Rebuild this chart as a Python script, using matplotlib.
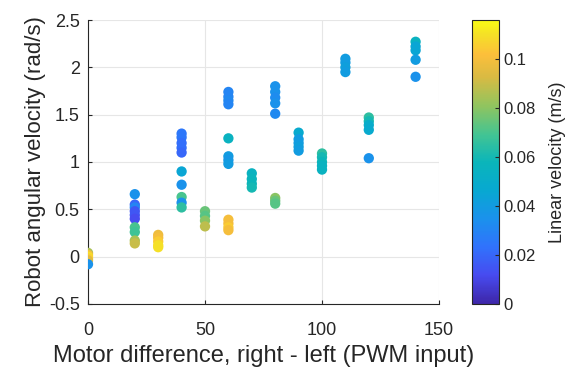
import matplotlib.pyplot as plt
from matplotlib.colors import LinearSegmentedColormap

plt.rcParams['font.family'] = ['Liberation Sans', 'DejaVu Sans']

# motor difference groups and the measured angular / linear velocities
motor_diff = [0, 20, 30, 40, 50, 60, 70, 80, 90, 100, 110, 120, 140]
ang_vel = [
    [0.04, 0.02, 0.0, -0.02, -0.04, -0.08],
    [0.66, 0.55, 0.52, 0.48, 0.44, 0.40, 0.31, 0.26, 0.17, 0.14],
    [0.23, 0.20, 0.16, 0.12, 0.10],
    [1.30, 1.26, 1.20, 1.15, 1.10, 0.90, 0.76, 0.63, 0.57, 0.52],
    [0.48, 0.43, 0.38, 0.32],
    [1.74, 1.69, 1.65, 1.61, 1.25, 1.06, 1.02, 0.98, 0.39, 0.35, 0.31, 0.28],
    [0.88, 0.82, 0.77, 0.73],
    [1.80, 1.74, 1.68, 1.62, 1.51, 0.62, 0.59, 0.56],
    [1.31, 1.24, 1.20, 1.16, 1.12],
    [1.09, 1.05, 1.00, 0.96, 0.92],
    [2.09, 2.05, 2.00, 1.95],
    [1.47, 1.43, 1.39, 1.34, 1.04],
    [2.27, 2.22, 2.18, 2.08, 1.90],
]
lin_vel = [
    [0.085, 0.100, 0.110, 0.105, 0.095, 0.035],
    [0.035, 0.020, 0.030, 0.015, 0.015, 0.012, 0.070, 0.068, 0.085, 0.090],
    [0.098, 0.100, 0.105, 0.110, 0.110],
    [0.025, 0.025, 0.022, 0.022, 0.020, 0.045, 0.035, 0.070, 0.035, 0.065],
    [0.075, 0.072, 0.080, 0.088],
    [0.030, 0.030, 0.032, 0.030, 0.055, 0.040, 0.038, 0.040, 0.100, 0.100, 0.105, 0.100],
    [0.055, 0.057, 0.058, 0.060],
    [0.035, 0.035, 0.033, 0.035, 0.032, 0.080, 0.075, 0.072],
    [0.048, 0.040, 0.040, 0.042, 0.040],
    [0.065, 0.060, 0.058, 0.055, 0.055],
    [0.040, 0.040, 0.042, 0.040],
    [0.065, 0.060, 0.050, 0.048, 0.035],
    [0.055, 0.045, 0.045, 0.040, 0.035],
]
cbar_ticks = [0, 0.02, 0.04, 0.06, 0.08, 0.1]

# parula-like colormap
parula = LinearSegmentedColormap.from_list('parula', [
    (0.00, (0.2422, 0.1504, 0.6603)),
    (0.10, (0.2783, 0.2931, 0.9403)),
    (0.20, (0.1900, 0.4480, 0.9900)),
    (0.30, (0.1040, 0.5700, 0.9250)),
    (0.40, (0.0300, 0.6600, 0.8200)),
    (0.50, (0.0400, 0.7100, 0.7300)),
    (0.60, (0.2700, 0.7700, 0.5700)),
    (0.70, (0.5700, 0.7700, 0.3700)),
    (0.80, (0.8500, 0.7300, 0.2600)),
    (0.88, (0.9900, 0.7500, 0.2300)),
    (0.95, (0.9600, 0.8800, 0.1500)),
    (1.00, (0.9769, 0.9839, 0.0805)),
])

xs, ys, cs = [], [], []
for m, a, c in zip(motor_diff, ang_vel, lin_vel):
    xs += [m] * len(a)
    ys += a
    cs += c

fig = plt.figure(figsize=(5.73, 3.77), dpi=100)
ax = fig.add_axes([88 / 573, 73 / 377, 351 / 573, 284 / 377])
cax = fig.add_axes([472 / 573, 73 / 377, 27 / 573, 284 / 377])

dark = (0.15, 0.15, 0.15)
sc = ax.scatter(xs, ys, c=cs, cmap=parula, vmin=0, vmax=0.1159,
                s=55, edgecolors='none', zorder=3)
ax.set_xlim(0, 150)
ax.set_ylim(-0.5, 2.5)
ax.set_xticks([0, 50, 100, 150])
ax.set_yticks([-0.5, 0, 0.5, 1, 1.5, 2, 2.5])
ax.set_yticklabels(['-0.5', '0', '0.5', '1', '1.5', '2', '2.5'])
ax.grid(True, color=(0.9, 0.9, 0.9), linewidth=0.8, zorder=0)
ax.set_axisbelow(True)
for side in ['top', 'right']:
    ax.spines[side].set_visible(False)
for side in ['left', 'bottom']:
    ax.spines[side].set_color(dark)
ax.tick_params(direction='in', length=3, color=dark, labelcolor=dark,
               labelsize=13)
ax.tick_params(axis='x', pad=13)
ax.tick_params(axis='y', pad=6)
ax.set_xlabel('Motor difference, right - left (PWM input)', fontsize=17,
              color=dark, labelpad=4)
ax.set_ylabel('Robot angular velocity (rad/s)', fontsize=16,
              color=dark, labelpad=2)

cb = fig.colorbar(sc, cax=cax, ticks=cbar_ticks)
cb.ax.set_yticklabels(['0', '0.02', '0.04', '0.06', '0.08', '0.1'])
cb.outline.set_edgecolor(dark)
cb.outline.set_linewidth(0.8)
cb.ax.tick_params(direction='in', length=3, color=dark, labelcolor=dark,
                  labelsize=12)
cb.set_label('Linear velocity (m/s)', fontsize=13, color=dark, labelpad=9)

fig.savefig('out.png', dpi=100)
